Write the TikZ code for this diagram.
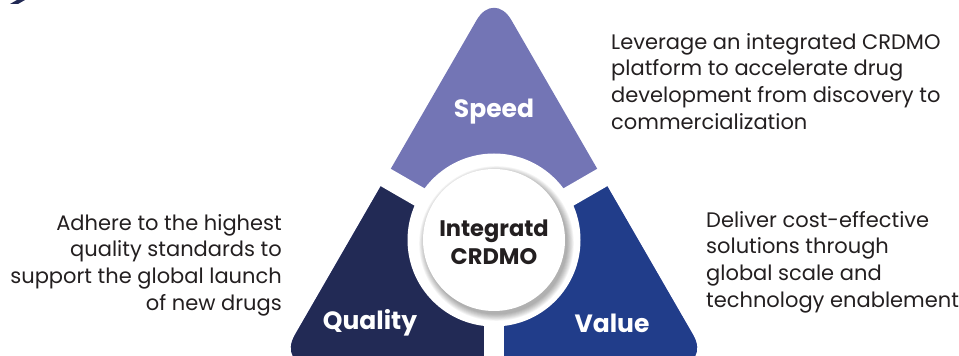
\documentclass[tikz,border=0pt]{standalone}
\usepackage{fontspec}
\usetikzlibrary{calc}
\setmainfont{Poppins}
\definecolor{speedc}{HTML}{7375B5}
\definecolor{qualc}{HTML}{222A55}
\definecolor{valc}{HTML}{213D8A}
\definecolor{txtc}{HTML}{231F20}
\tikzset{
  body/.style={font=\fontsize{21}{26.7}\selectfont, text=txtc, inner sep=0pt},
  seglabel/.style={font=\fontsize{25}{30}\selectfont\bfseries, text=white, inner sep=0pt},
  core/.style={font=\fontsize{22.5}{28}\selectfont\bfseries, text=txtc, align=center, inner sep=0pt}
}
\begin{document}
\begin{tikzpicture}[x=1pt,y=1pt]
\useasboundingbox (0,0) rectangle (959,356);
\coordinate (C) at (494,116);
% top-left chevron fragment
\fill[qualc] (10,352) -- (18,352) -- (25,356) -- (17,356) -- cycle;
% triangle pieces
\begin{scope}
  \clip[rounded corners=35pt] (494,366) -- (277.5,-9) -- (710.5,-9) -- cycle;
  \fill[speedc] (0,-50) rectangle (959,400);
  \fill[qualc] (C) -- ++(150:400) -- (0,-50) -- (494,-50) -- cycle;
  \fill[valc] (C) -- ++(30:400) -- (959,-50) -- (494,-50) -- cycle;
\end{scope}
% gaps
\draw[white, line width=20pt] (C) -- ++(30:300);
\draw[white, line width=20pt] (C) -- ++(150:300);
\draw[white, line width=20pt] (C) -- ++(270:300);
\fill[white] (C) circle (86.5);
% shadow
\foreach \k in {0,1,...,7} {
  \fill[black, opacity=0.045] ($(C)+(2.5,-3.5)$) circle ({71+\k*0.9});
}
\fill[white] (C) circle (71);
% labels
\node[seglabel] (speed) at (494,244) {Speed};
\node[seglabel] (quality) at (370,33) {Quality};
\node[seglabel] (value) at (612,33) {Value};
\node[core] (core) at (494,114) {Integratd\\CRDMO};
\node[body, align=left, anchor=north west] (t1) at (611,323) {Leverage an integrated CRDMO\\platform to accelerate drug\\development from discovery to\\commercialization};
\node[body, align=right, anchor=north east] (t2) at (282,142) {Adhere to the highest\\quality standards to\\support the global launch\\of new drugs};
\node[body, align=left, anchor=north west] (t3) at (706,145) {Deliver cost-effective\\solutions through\\global scale and\\technology enablement};
\end{tikzpicture}
\end{document}
